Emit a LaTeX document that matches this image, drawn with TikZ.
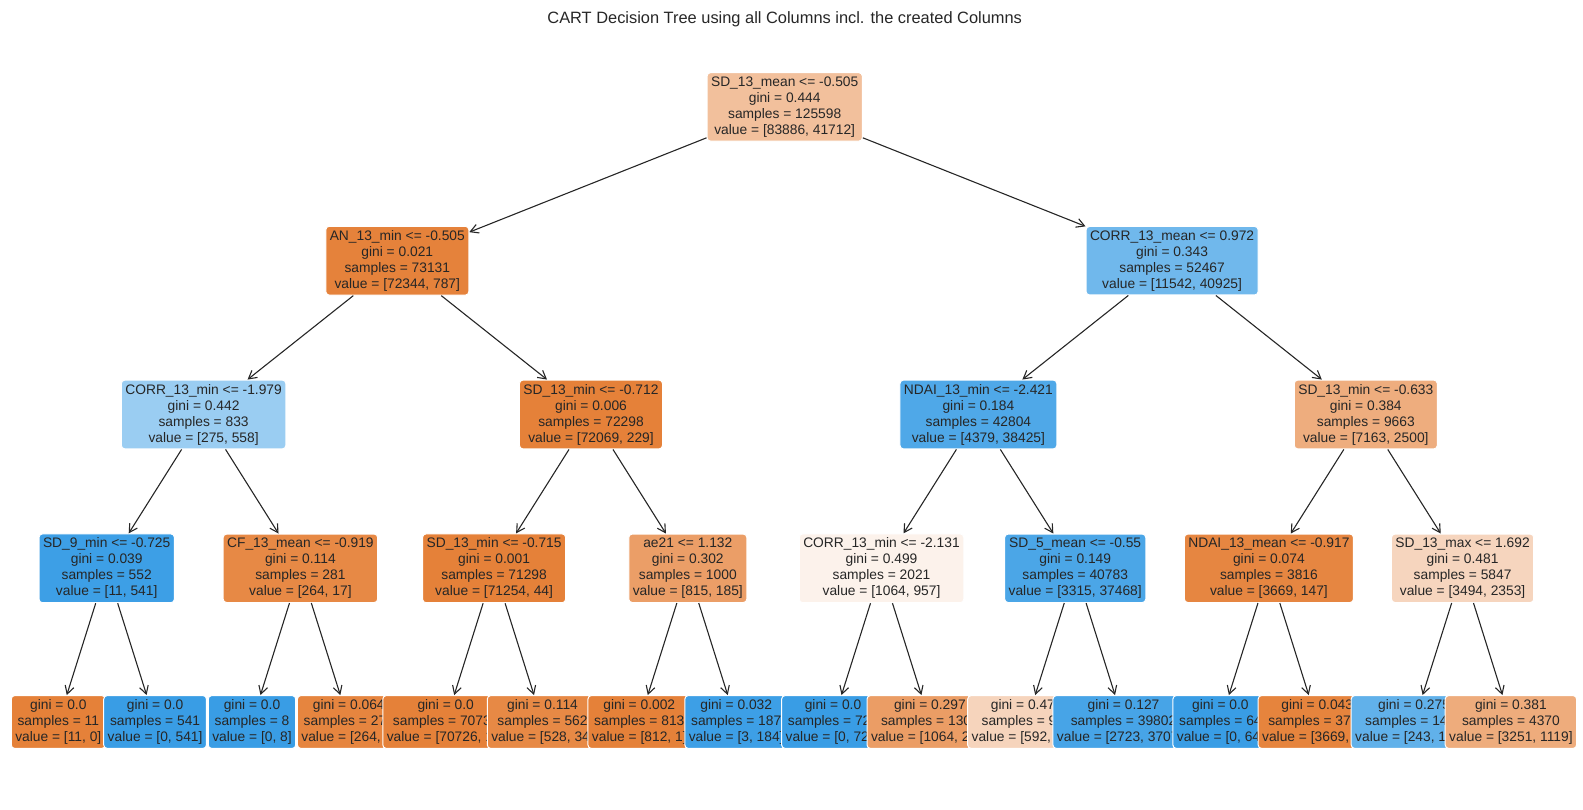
\documentclass[tikz,border=0pt]{standalone}
\usepackage{fontspec}
\setmainfont{Liberation Sans}
\usetikzlibrary{arrows.meta}
\definecolor{treeorange}{RGB}{229,129,57}
\definecolor{treeblue}{RGB}{57,157,229}
\definecolor{treegray}{RGB}{38,38,38}

\begin{document}
\begin{tikzpicture}[x=1pt, y=-1pt,
    every node/.style={align=center, font=\fontsize{13.8}{16}\selectfont, text=treegray},
    splitBox/.style={draw=white, line width=1pt, rounded corners=3.5pt, inner sep=4pt},
    leafBox/.style={splitBox},
    treeArrow/.style={draw=treegray, line width=1.1pt, -{Straight Barb[length=8pt,width=9pt]}}]

        \useasboundingbox (0,0) rectangle (1583,810);

        % Title
        \node[font=\fontsize{16.4}{19}\selectfont, anchor=base] (titleText) at (784.7,23.7)
            {CART Decision Tree using all Columns incl. the created Columns};

        % Root
        \node[splitBox, fill=treeorange!50] (rootBox) at (784.7,106.9) {%
            SD\_13\_mean <= -0.505\\gini = 0.444\\samples = 125598\\value = [83886, 41712]};

        % Depth 1
        \node[splitBox, fill=treeorange!99] (anBox) at (397.3,260.7) {%
            AN\_13\_min <= -0.505\\gini = 0.021\\samples = 73131\\value = [72344, 787]};
        \node[splitBox, fill=treeblue!72] (corrMeanBox) at (1172.1,260.7) {%
            CORR\_13\_mean <= 0.972\\gini = 0.343\\samples = 52467\\value = [11542, 40925]};

        % Depth 2
        \node[splitBox, fill=treeblue!51] (corrMinBox) at (203.6,414.5) {%
            CORR\_13\_min <= -1.979\\gini = 0.442\\samples = 833\\value = [275, 558]};
        \node[splitBox, fill=treeorange!100] (sdMinBox) at (591.0,414.5) {%
            SD\_13\_min <= -0.712\\gini = 0.006\\samples = 72298\\value = [72069, 229]};
        \node[splitBox, fill=treeblue!89] (ndaiMinBox) at (978.4,414.5) {%
            NDAI\_13\_min <= -2.421\\gini = 0.184\\samples = 42804\\value = [4379, 38425]};
        \node[splitBox, fill=treeorange!65] (sdMinRightBox) at (1365.8,414.5) {%
            SD\_13\_min <= -0.633\\gini = 0.384\\samples = 9663\\value = [7163, 2500]};

        % Depth 3
        \node[splitBox, fill=treeblue!98] (sdNineBox) at (106.7,568.3) {%
            SD\_9\_min <= -0.725\\gini = 0.039\\samples = 552\\value = [11, 541]};
        \node[splitBox, fill=treeorange!94] (cfMeanBox) at (300.4,568.3) {%
            CF\_13\_mean <= -0.919\\gini = 0.114\\samples = 281\\value = [264, 17]};
        \node[splitBox, fill=treeorange!100] (sdMinDeepBox) at (494.1,568.3) {%
            SD\_13\_min <= -0.715\\gini = 0.001\\samples = 71298\\value = [71254, 44]};
        \node[splitBox, fill=treeorange!77] (aeBox) at (687.8,568.3) {%
            ae21 <= 1.132\\gini = 0.302\\samples = 1000\\value = [815, 185]};
        \node[splitBox, fill=treeorange!10] (corrMinDeepBox) at (881.5,568.3) {%
            CORR\_13\_min <= -2.131\\gini = 0.499\\samples = 2021\\value = [1064, 957]};
        \node[splitBox, fill=treeblue!91] (sdFiveBox) at (1075.2,568.3) {%
            SD\_5\_mean <= -0.55\\gini = 0.149\\samples = 40783\\value = [3315, 37468]};
        \node[splitBox, fill=treeorange!96] (ndaiMeanBox) at (1268.9,568.3) {%
            NDAI\_13\_mean <= -0.917\\gini = 0.074\\samples = 3816\\value = [3669, 147]};
        \node[splitBox, fill=treeorange!33] (sdMaxBox) at (1462.6,568.3) {%
            SD\_13\_max <= 1.692\\gini = 0.481\\samples = 5847\\value = [3494, 2353]};

        % Leaves
        \node[leafBox, fill=treeorange!100] (leafA) at (58.3,722) {gini = 0.0\\samples = 11\\value = [11, 0]};
        \node[leafBox, fill=treeblue!100] (leafB) at (155.1,722) {gini = 0.0\\samples = 541\\value = [0, 541]};
        \node[leafBox, fill=treeblue!100] (leafC) at (252.0,722) {gini = 0.0\\samples = 8\\value = [0, 8]};
        \node[leafBox, fill=treeorange!97] (leafD) at (348.8,722) {gini = 0.064\\samples = 273\\value = [264, 9]};
        \node[leafBox, fill=treeorange!100] (leafE) at (445.7,722) {gini = 0.0\\samples = 70736\\value = [70726, 10]};
        \node[leafBox, fill=treeorange!94] (leafF) at (542.5,722) {gini = 0.114\\samples = 562\\value = [528, 34]};
        \node[leafBox, fill=treeorange!100] (leafG) at (639.3,722) {gini = 0.002\\samples = 813\\value = [812, 1]};
        \node[leafBox, fill=treeblue!98] (leafH) at (736.2,722) {gini = 0.032\\samples = 187\\value = [3, 184]};
        \node[leafBox, fill=treeblue!100] (leafI) at (833.0,722) {gini = 0.0\\samples = 721\\value = [0, 721]};
        \node[leafBox, fill=treeorange!78] (leafJ) at (929.9,722) {gini = 0.297\\samples = 1300\\value = [1064, 236]};
        \node[leafBox, fill=treeorange!34] (leafK) at (1026.7,722) {gini = 0.479\\samples = 981\\value = [592, 389]};
        \node[leafBox, fill=treeblue!93] (leafL) at (1123.5,722) {gini = 0.127\\samples = 39802\\value = [2723, 37079]};
        \node[leafBox, fill=treeblue!100] (leafM) at (1220.4,722) {gini = 0.0\\samples = 64\\value = [0, 64]};
        \node[leafBox, fill=treeorange!98] (leafN) at (1317.2,722) {gini = 0.043\\samples = 3752\\value = [3669, 83]};
        \node[leafBox, fill=treeblue!80] (leafO) at (1414.1,722) {gini = 0.275\\samples = 1477\\value = [243, 1234]};
        \node[leafBox, fill=treeorange!66] (leafP) at (1510.9,722) {gini = 0.381\\samples = 4370\\value = [3251, 1119]};

        % Arrows
        \draw[treeArrow] (rootBox) -- (anBox);
        \draw[treeArrow] (rootBox) -- (corrMeanBox);
        \draw[treeArrow] (anBox) -- (corrMinBox);
        \draw[treeArrow] (anBox) -- (sdMinBox);
        \draw[treeArrow] (corrMeanBox) -- (ndaiMinBox);
        \draw[treeArrow] (corrMeanBox) -- (sdMinRightBox);
        \draw[treeArrow] (corrMinBox) -- (sdNineBox);
        \draw[treeArrow] (corrMinBox) -- (cfMeanBox);
        \draw[treeArrow] (sdMinBox) -- (sdMinDeepBox);
        \draw[treeArrow] (sdMinBox) -- (aeBox);
        \draw[treeArrow] (ndaiMinBox) -- (corrMinDeepBox);
        \draw[treeArrow] (ndaiMinBox) -- (sdFiveBox);
        \draw[treeArrow] (sdMinRightBox) -- (ndaiMeanBox);
        \draw[treeArrow] (sdMinRightBox) -- (sdMaxBox);
        \draw[treeArrow] (sdNineBox) -- (leafA);
        \draw[treeArrow] (sdNineBox) -- (leafB);
        \draw[treeArrow] (cfMeanBox) -- (leafC);
        \draw[treeArrow] (cfMeanBox) -- (leafD);
        \draw[treeArrow] (sdMinDeepBox) -- (leafE);
        \draw[treeArrow] (sdMinDeepBox) -- (leafF);
        \draw[treeArrow] (aeBox) -- (leafG);
        \draw[treeArrow] (aeBox) -- (leafH);
        \draw[treeArrow] (corrMinDeepBox) -- (leafI);
        \draw[treeArrow] (corrMinDeepBox) -- (leafJ);
        \draw[treeArrow] (sdFiveBox) -- (leafK);
        \draw[treeArrow] (sdFiveBox) -- (leafL);
        \draw[treeArrow] (ndaiMeanBox) -- (leafM);
        \draw[treeArrow] (ndaiMeanBox) -- (leafN);
        \draw[treeArrow] (sdMaxBox) -- (leafO);
        \draw[treeArrow] (sdMaxBox) -- (leafP);

\end{tikzpicture}
\end{document}
